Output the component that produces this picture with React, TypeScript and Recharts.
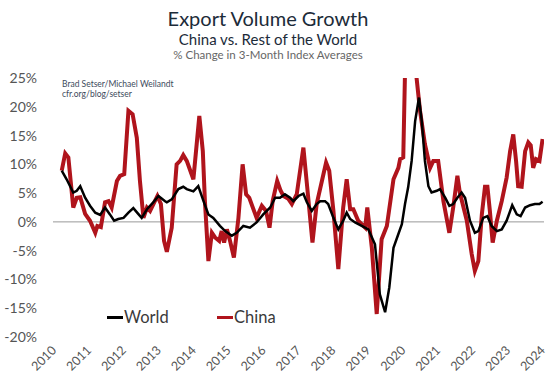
import React from "react";
import { LineChart, Line, XAxis, YAxis, ReferenceLine } from "recharts";

const yearTicks = [2010, 2011, 2012, 2013, 2014, 2015, 2016, 2017, 2018, 2019, 2020, 2021, 2022, 2023, 2024];
const percentTicks = [-20, -15, -10, -5, 0, 5, 10, 15, 20, 25];

const chinaDates = [
  2010.19, 2010.29, 2010.38, 2010.52, 2010.62, 2010.72, 2010.86, 2011.0, 2011.15, 2011.21, 2011.31, 2011.43,
  2011.53, 2011.62, 2011.77, 2011.86, 2011.98, 2012.1, 2012.22, 2012.34, 2012.43, 2012.53, 2012.63, 2012.72,
  2012.93, 2013.03, 2013.12, 2013.2, 2013.34, 2013.48, 2013.58, 2013.67, 2013.77, 2013.96, 2014.13, 2014.23,
  2014.29, 2014.39, 2014.49, 2014.58, 2014.7, 2014.77, 2014.84, 2014.92, 2015.01, 2015.12, 2015.25, 2015.37,
  2015.47, 2015.56, 2015.77, 2015.92, 2016.04, 2016.14, 2016.23, 2016.36, 2016.46, 2016.54, 2016.68, 2016.78,
  2016.92, 2017.11, 2017.22, 2017.37, 2017.49, 2017.64, 2017.76, 2017.85, 2017.97, 2018.11, 2018.25, 2018.35,
  2018.45, 2018.54, 2018.68, 2018.88, 2018.94, 2019.07, 2019.21, 2019.35, 2019.5, 2019.69, 2019.83, 2019.88,
  2019.97, 2020.04, 2020.23, 2020.45, 2020.59, 2020.74, 2020.83, 2020.97, 2021.12, 2021.29, 2021.4, 2021.52,
  2021.59, 2021.79, 2021.93, 2022.02, 2022.12, 2022.22, 2022.31, 2022.38, 2022.45, 2022.53, 2022.65, 2022.79,
  2022.93, 2023.03, 2023.12, 2023.2, 2023.26, 2023.36, 2023.46, 2023.55, 2023.62, 2023.69, 2023.77, 2023.87,
  2023.96,
];
const chinaValues = [
  8.9, 11.9, 11.2, 2.5, 4.2, 4.3, 1.4, 0.2, -1.9, -0.7, -0.9, 3.4,
  3.6, 2.5, 7.1, 8.0, 8.3, 19.3, 18.7, 14.6, 7.1, 0.7, 2.5, 1.9,
  4.5, 3.1, -3.3, -5.2, -1.0, 10.0, 10.6, 11.6, 10.6, 7.4, 18.4, 12.3,
  3.6, -6.8, -1.9, -2.7, -3.3, -1.6, -3.6, -1.3, -3.3, -6.2, 0.7, 10.0,
  4.8, 4.2, 0.7, 2.8, 1.9, -1.0, 3.6, 7.1, 5.4, 4.5, 4.0, 3.1,
  4.8, 12.9, 6.0, -3.6, 3.1, 7.1, 10.3, 8.9, 1.9, -8.2, 2.5, 7.4,
  2.2, 2.2, 0.2, -1.0, 2.5, -4.5, -16.0, -3.0, -0.7, 7.4, 9.4, 10.9,
  11.2, 32.0, 32.0, 19.3, 13.5, 9.4, 10.6, 10.6, 3.6, -1.9, 2.5, 8.0,
  5.1, 0.2, -5.6, -8.5, -6.8, 1.3, 6.1, 6.1, 1.9, -3.6, 0.2, 3.6,
  7.7, 12.3, 15.2, 10.6, 6.2, 6.1, 12.3, 13.8, 13.3, 9.4, 10.9, 10.6,
  14.4,
];

const worldDates = [
  2010.19, 2010.33, 2010.52, 2010.62, 2010.72, 2010.86, 2011.0, 2011.15, 2011.29, 2011.43, 2011.57, 2011.69,
  2011.81, 2011.96, 2012.1, 2012.24, 2012.38, 2012.48, 2012.63, 2012.81, 2012.96, 2013.15, 2013.2, 2013.34,
  2013.53, 2013.67, 2013.77, 2013.96, 2014.1, 2014.25, 2014.39, 2014.53, 2014.72, 2014.87, 2015.06, 2015.2,
  2015.39, 2015.58, 2015.77, 2015.96, 2016.16, 2016.3, 2016.44, 2016.58, 2016.73, 2016.82, 2016.97, 2017.11,
  2017.21, 2017.35, 2017.49, 2017.59, 2017.73, 2017.82, 2017.97, 2018.11, 2018.25, 2018.35, 2018.45, 2018.59,
  2018.78, 2018.97, 2019.16, 2019.3, 2019.45, 2019.57, 2019.69, 2019.83, 2019.93, 2020.02, 2020.11, 2020.21,
  2020.31, 2020.42, 2020.5, 2020.59, 2020.69, 2020.78, 2020.93, 2021.02, 2021.17, 2021.29, 2021.4, 2021.52,
  2021.64, 2021.74, 2021.88, 2022.02, 2022.12, 2022.26, 2022.38, 2022.5, 2022.65, 2022.79, 2022.93, 2023.09,
  2023.22, 2023.33, 2023.46, 2023.6, 2023.74, 2023.87, 2023.96,
];
const worldValues = [
  8.9, 7.4, 5.1, 5.4, 6.2, 4.2, 2.8, 1.6, 1.2, 2.5, 1.3, 0.2,
  0.5, 0.7, 1.6, 2.4, 1.4, 0.7, 2.2, 3.4, 4.5, 3.6, 3.4, 3.9,
  5.7, 6.1, 5.7, 5.3, 6.2, 3.6, 1.3, 0.7, -0.7, -1.6, -2.4, -1.9,
  -0.7, -1.0, -0.1, 1.3, 2.5, 4.2, 4.2, 4.8, 4.2, 3.6, 4.5, 4.9,
  3.4, 1.9, 3.1, 3.6, 3.6, 3.1, 0.7, -1.3, 0.2, 1.6, 0.5, -0.1,
  -0.7, -1.3, -3.9, -12.6, -15.7, -11.4, -4.5, -2.1, -0.4, 3.1, 6.0, 10.6,
  17.5, 21.6, 17.5, 10.6, 6.2, 5.1, 5.4, 5.7, 4.2, 2.8, 3.1, 4.2,
  5.1, 4.2, 0.2, -1.9, -1.6, 0.7, 1.0, -0.7, -1.6, -1.3, 0.2, 2.9,
  1.3, 1.0, 2.5, 2.9, 3.1, 3.1, 3.5,
];

const chinaData = chinaDates.map((d, i) => ({ date: d, value: chinaValues[i] }));
const worldData = worldDates.map((d, i) => ({ date: d, value: worldValues[i] }));

const FONT = "Lato, 'Open Sans', sans-serif";

const XTick = (props: any) => {
  const { x, y, payload } = props;
  return (
    <text
      x={x + 2}
      y={y}
      transform={`rotate(-45 ${x + 2} ${y})`}
      textAnchor="end"
      fontFamily={FONT}
      fontSize={12.5}
      fill="#555"
    >
      {payload.value}
    </text>
  );
};

export default function App() {
  return (
    <div style={{ position: "absolute", left: 0, top: 0, width: 554, height: 373, background: "#fff", fontFamily: FONT }}>
      <div style={{ position: "absolute", left: 0, width: 554, top: 5, textAlign: "center", fontSize: 20, color: "#1c2b39", lineHeight: "26px" }}>
        <span style={{ position: "relative", left: -9 }}>Export Volume Growth</span>
      </div>
      <div style={{ position: "absolute", left: 0, width: 554, top: 30, textAlign: "center", fontSize: 15, color: "#1c2b39", lineHeight: "18px" }}>
        <span style={{ position: "relative", left: -9 }}>China vs. Rest of the World</span>
      </div>
      <div style={{ position: "absolute", left: 0, width: 554, top: 48, textAlign: "center", fontSize: 11.5, color: "#666", lineHeight: "14px" }}>
        <span style={{ position: "relative", left: -9 }}>% Change in 3-Month Index Averages</span>
      </div>
      <div style={{ position: "absolute", left: 62, top: 79, fontSize: 8.5, color: "#3d4a5c", lineHeight: "10px" }}>
        Brad Setser/Michael Weilandt
        <br />
        cfr.org/blog/setser
      </div>
      <div style={{ position: "absolute", left: 107, top: 316, width: 16, height: 3, background: "#000" }} />
      <div style={{ position: "absolute", left: 124, top: 306, fontSize: 16.5, color: "#3a3a3a", lineHeight: "22px" }}>World</div>
      <div style={{ position: "absolute", left: 217, top: 316, width: 16, height: 3, background: "#b0141c" }} />
      <div style={{ position: "absolute", left: 234, top: 306, fontSize: 16.5, color: "#3a3a3a", lineHeight: "22px" }}>China</div>
      <div style={{ position: "absolute", left: 0, top: 0 }}>
        <LineChart width={554} height={373} margin={{ top: 78, right: 10, bottom: 0, left: 0 }}>
          <XAxis
            dataKey="date"
            type="number"
            domain={[2009.94, 2024]}
            ticks={yearTicks}
            allowDataOverflow
            axisLine={false}
            tickLine={false}
            tickMargin={8}
            height={36}
            tick={<XTick />}
            interval={0}
          />
          <YAxis
            dataKey="value"
            type="number"
            domain={[-20, 25]}
            ticks={percentTicks}
            allowDataOverflow
            axisLine={false}
            tickLine={false}
            tickMargin={10}
            width={53}
            interval={0}
            tickFormatter={(v: number) => `${v}%`}
            tick={{ fontFamily: FONT, fontSize: 14, fill: "#555" }}
          />
          <ReferenceLine y={0} stroke="#999" strokeWidth={1} />
          <Line
            data={chinaData}
            dataKey="value"
            name="China"
            type="linear"
            stroke="#b0141c"
            strokeWidth={4}
            dot={false}
            isAnimationActive={false}
          />
          <Line
            data={worldData}
            dataKey="value"
            name="World"
            type="linear"
            stroke="#000"
            strokeWidth={2.5}
            dot={false}
            isAnimationActive={false}
          />
        </LineChart>
      </div>
    </div>
  );
}
